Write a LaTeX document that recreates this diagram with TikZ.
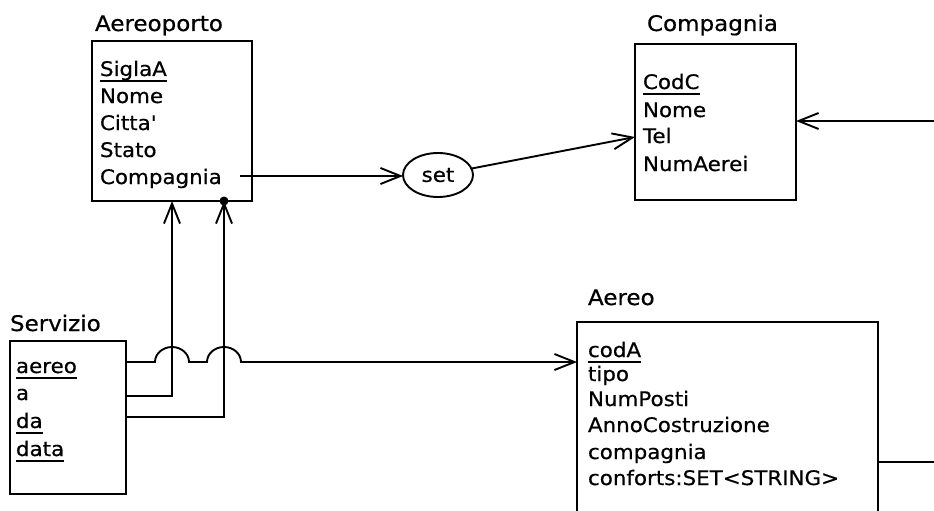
\documentclass[tikz,border=0pt]{standalone}
\usepackage{fontspec}
\setmainfont{DejaVu Sans}[FakeStretch=1.07,FakeBold=0.6]
\usetikzlibrary{arrows.meta,shapes.geometric}

% underline for key attributes
\newcommand\keyline[1]{\draw[line width=2pt] ([yshift=-4.5pt]#1.base west) -- ([yshift=-4.5pt]#1.base east);}

\begin{document}
\begin{tikzpicture}[x=1pt,y=-1pt,line width=1.9pt,
  every node/.style={font=\fontsize{20pt}{24pt}\selectfont, inner sep=0pt, outer sep=0pt},
  entity/.style={draw, rectangle, line width=1.9pt},
  attr/.style={anchor=base west},
  etitle/.style={anchor=base west, font=\fontsize{21.5pt}{25pt}\selectfont},
  ref/.style={-{Straight Barb[length=20pt,width=16pt]}}]
\useasboundingbox (0,0) rectangle (934,511);

% ---- Aereoporto
\node[entity, minimum width=160pt, minimum height=160pt] (aerp) at (172,121) {};
\node[etitle] (aerpT) at (95,31) {Aereoporto};
\node[attr] (aerpSigla) at (100,76) {SiglaA};
\node[attr] (aerpNome) at (100,103) {Nome};
\node[attr] (aerpCitta) at (100,130) {Citta\textquotesingle};
\node[attr] (aerpStato) at (100,157) {Stato};
\node[attr] (aerpComp) at (100,184) {Compagnia};
\keyline{aerpSigla}

% ---- Compagnia
\node[entity, minimum width=161pt, minimum height=156pt] (cmp) at (715.5,122) {};
\node[etitle] (cmpT) at (647,31) {Compagnia};
\node[attr] (cmpCod) at (643,89) {CodC};
\node[attr] (cmpNome) at (643,117) {Nome};
\node[attr] (cmpTel) at (643,143) {Tel};
\node[attr] (cmpNum) at (643,171) {NumAerei};
\keyline{cmpCod}

% ---- Aereo
\node[entity, minimum width=301pt, minimum height=218pt] (aereo) at (727.5,431) {};
\node[etitle] (aereoT) at (588,305) {Aereo};
\node[attr] (aCod) at (588,357) {codA};
\node[attr] (aTipo) at (588,381) {tipo};
\node[attr] (aPosti) at (588,406) {NumPosti};
\node[attr] (aAnno) at (588,432) {AnnoCostruzione};
\node[attr] (aComp) at (588,459) {compagnia};
\node[attr] (aConf) at (588,485) {conforts:SET<STRING>};
\keyline{aCod}

% ---- Servizio
\node[entity, minimum width=116pt, minimum height=153pt] (serv) at (68,417.5) {};
\node[etitle] (servT) at (10,331) {Servizio};
\node[attr] (sAereo) at (16,373) {aereo};
\node[attr] (sA) at (16,400) {a};
\node[attr] (sDa) at (16,428) {da};
\node[attr] (sData) at (16,456) {data};
\keyline{sAereo}
\keyline{sDa}
\keyline{sData}

% ---- set constructor
\node[draw, ellipse, minimum width=70pt, minimum height=44pt] (set) at (438,175) {set};

% ---- references
\coordinate (compOut) at (240,176);
\draw[ref] (compOut) -- (set.west |- compOut);
\draw[ref] (set) -- (cmp.west |- 0,137);

\coordinate (offR1) at (934,121);
\draw[ref] (offR1) -- (cmp.east |- offR1);
\coordinate (offR2) at (934,462);
\draw (aereo.east |- offR2) -- (offR2);

% aereo -> Aereo, hopping over the two vertical references
\draw[ref] (serv.east |- 0,362) -- (155,362)
  arc[start angle=180, end angle=360, x radius=17, y radius=15]
  -- (207,362)
  arc[start angle=180, end angle=360, x radius=17, y radius=15]
  -- (aereo.west |- 0,362);

% a -> Aereoporto, da -> Aereoporto
\draw[ref] (serv.east |- 0,396) -| (aerp.south -| 172,0);
\draw[ref] (serv.east |- 0,417) -| (aerp.south -| 224,0);
\fill (aerp.south -| 224,0) circle (4.5pt);
\end{tikzpicture}
\end{document}
